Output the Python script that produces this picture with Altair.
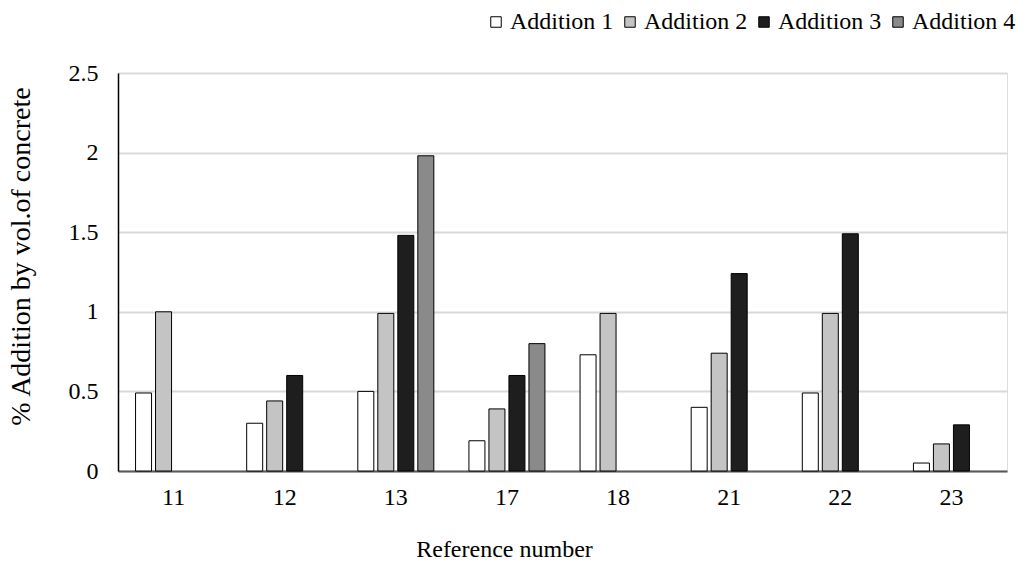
import altair as alt
import pandas as pd

refs = ["11", "12", "13", "17", "18", "21", "22", "23"]
series = ["Addition 1", "Addition 2", "Addition 3", "Addition 4"]
add1 = [0.49, 0.30, 0.50, 0.19, 0.73, 0.40, 0.49, 0.05]
add2 = [1.00, 0.44, 0.99, 0.39, 0.99, 0.74, 0.99, 0.17]
add3 = [None, 0.60, 1.48, 0.60, None, 1.24, 1.49, 0.29]
add4 = [None, None, 1.98, 0.80, None, None, None, None]
fills = ["#ffffff", "#c4c4c4", "#1e1e1e", "#8a8a8a"]

rows = []
for name, vals in zip(series, [add1, add2, add3, add4]):
    for r, v in zip(refs, vals):
        if v is not None:
            rows.append({"ref": r, "series": name, "value": v})
df = pd.DataFrame(rows)

FONT = "Liberation Serif"

chart = alt.Chart(df).mark_bar(stroke="#000000", strokeWidth=1).encode(
    x=alt.X(
        "ref:N", sort=refs, title="Reference number",
        scale=alt.Scale(paddingInner=0.28, paddingOuter=0.14),
        axis=alt.Axis(labelAngle=0, ticks=False, domainColor="#595959", domainWidth=2,
                      labelPadding=14, titlePadding=28, labelFontSize=24, titleFontSize=24,
                      labelFont=FONT, titleFont=FONT, labelColor="#000", titleColor="#000",
                      titleFontWeight="normal", titleX=386, titleAlign="center"),
    ),
    xOffset=alt.XOffset("series:N", sort=series,
                        scale=alt.Scale(domain=series, paddingInner=0.2, paddingOuter=0.1)),
    y=alt.Y(
        "value:Q", title="% Addition by vol.of concrete",
        scale=alt.Scale(domain=[0, 2.5], nice=False),
        axis=alt.Axis(values=[0, 0.5, 1, 1.5, 2, 2.5], format="~g", ticks=False,
                      domainColor="#000000", domainWidth=1.5, gridColor="#d9d9d9", gridWidth=2,
                      labelPadding=20, titlePadding=33, labelFontSize=24, titleFontSize=28,
                      labelFont=FONT, titleFont=FONT, labelColor="#000", titleColor="#000",
                      titleFontWeight="normal", titleY=183, titleAlign="center"),
    ),
    fill=alt.Fill(
        "series:N", sort=series,
        scale=alt.Scale(domain=series, range=fills),
        legend=alt.Legend(title=None, orient="none", direction="horizontal",
                          legendX=366, legendY=-63, symbolType="square", symbolSize=110,
                          symbolStrokeColor="#000", symbolStrokeWidth=1, symbolOpacity=1,
                          labelFont=FONT, labelFontSize=24, labelColor="#000",
                          labelOffset=2, columnPadding=4),
    ),
).properties(
    width=889, height=398,
    padding={"left": 118, "top": 73, "right": 22, "bottom": 95},
    autosize=alt.AutoSizeParams(type="none"),
).configure_view(stroke=None).configure(background="#ffffff")

chart.save("out.html", embed_options={"renderer": "svg", "actions": False})
